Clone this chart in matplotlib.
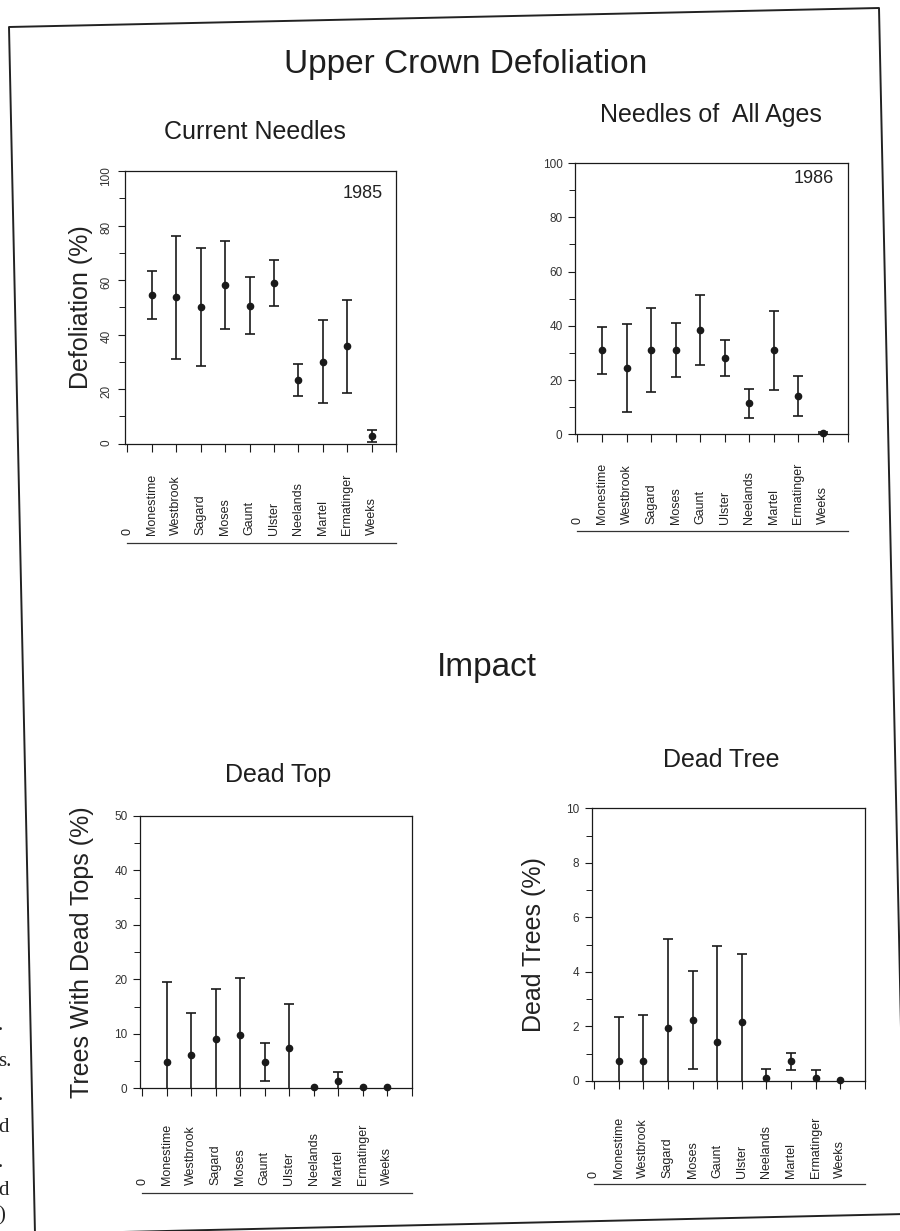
import numpy as np
import matplotlib
matplotlib.use("Agg")
import matplotlib.pyplot as plt
from matplotlib.lines import Line2D
from matplotlib.ticker import MultipleLocator
import matplotlib.transforms as mtransforms

plt.rcParams['font.family'] = ['Liberation Sans', 'DejaVu Sans']

# --- site data (mean and standard deviation per stand) ---
sites = ["Monestime", "Westbrook", "Sagard", "Moses", "Gaunt",
         "Ulster", "Neelands", "Martel", "Ermatinger", "Weeks"]

defol_1985_mean = [54.5, 53.6, 50.1, 58.2, 50.6, 58.9, 23.2, 30.0, 35.6, 2.7]
defol_1985_sd = [8.8, 22.5, 21.8, 16.0, 10.5, 8.6, 5.8, 15.3, 17.2, 2.2]

defol_1986_mean = [30.9, 24.3, 31.1, 31.2, 38.5, 28.0, 11.4, 31.0, 14.1, 0.6]
defol_1986_sd = [8.8, 16.2, 15.4, 10.0, 13.0, 6.6, 5.3, 14.5, 7.5, 0.4]

dead_top_mean = [4.9, 6.1, 9.1, 9.8, 4.9, 7.4, 0.2, 1.25, 0.2, 0.3]
dead_top_sd = [14.6, 7.7, 9.1, 10.5, 3.5, 8.1, 0.0, 1.75, 0.0, 0.0]

dead_tree_mean = [0.72, 0.72, 1.92, 2.24, 1.43, 2.16, 0.12, 0.71, 0.10, 0.03]
dead_tree_sd = [1.61, 1.71, 3.3, 1.8, 3.5, 2.48, 0.31, 0.3, 0.31, 0.0]

W, H = 900, 1231
INK = '#1a1a1a'


def px_box(left, top, right, bottom):
    return [left / W, 1 - bottom / H, (right - left) / W, (bottom - top) / H]


def site_panel(box, means, sds, ymax, major, minor, ylabel, ylabel_xy,
               rotate_ticks=False, year=None, year_xy=None,
               label_y=-0.33, line_y=-0.36):
    ax = fig.add_axes(px_box(*box))
    x = np.arange(1, len(sites) + 1)
    m = np.array(means)
    s = np.array(sds)
    lo = np.clip(m - s, 0, None)
    hi = m + s

    # error bars, caps only where the bar does not run into the axis
    has_bar = s > 0
    ax.vlines(x[has_bar], lo[has_bar], hi[has_bar], color=INK, lw=1.2, zorder=3)
    ax.plot(x[has_bar], hi[has_bar], '_', color=INK, ms=7, mew=1.2, zorder=3)
    low_cap = has_bar & (m - s > 0)
    ax.plot(x[low_cap], lo[low_cap], '_', color=INK, ms=7, mew=1.2, zorder=3)
    ax.plot(x, m, 'o', color=INK, ms=4.5, zorder=4, clip_on=False)

    ax.set_xlim(-0.1, 11.0)
    ax.set_ylim(0, ymax)
    ax.set_xticks(np.arange(0, 12))
    ax.yaxis.set_major_locator(MultipleLocator(major))
    ax.yaxis.set_minor_locator(MultipleLocator(minor))
    ax.tick_params(axis='x', direction='out', length=6, width=0.8,
                   labelbottom=False, color=INK)
    ax.tick_params(axis='y', which='major', direction='out', length=5,
                   width=0.8, labelsize=8.5, labelcolor='#333333', color=INK,
                   pad=4)
    ax.tick_params(axis='y', which='minor', direction='out', length=4,
                   width=0.7, color=INK)
    if rotate_ticks:
        ax.tick_params(axis='y', labelrotation=90)
    for sp in ax.spines.values():
        sp.set_linewidth(0.9)
        sp.set_color(INK)

    ax.set_ylabel(ylabel, fontsize=18, color='#222222')
    ax.yaxis.set_label_coords(*ylabel_xy)

    # stand names written upward below the axis, then an underline
    trans = mtransforms.blended_transform_factory(ax.transData, ax.transAxes)
    names = ["0"] + sites
    for i, name in enumerate(names):
        ax.text(i, label_y, name, transform=trans, rotation=90,
                ha='center', va='bottom', fontsize=9, color='#222222')
    ax.plot([0, 11], [line_y, line_y], transform=trans, color='#333333',
            lw=0.9, clip_on=False)

    if year:
        ax.text(*year_xy, year, transform=ax.transAxes, ha='right',
                va='baseline', fontsize=13, color='#222222')
    return ax


fig = plt.figure(figsize=(W / 100, H / 100), dpi=100)

fig.text(466 / W, 1 - 73.5 / H, "Upper Crown Defoliation", ha='center',
         va='baseline', fontsize=24, color='#1e1e1e')
fig.text(255 / W, 1 - 139 / H, "Current Needles", ha='center',
         va='baseline', fontsize=18, color='#1e1e1e')
fig.text(711 / W, 1 - 122 / H, "Needles of  All Ages", ha='center',
         va='baseline', fontsize=18, color='#1e1e1e')
fig.text(487 / W, 1 - 676 / H, "Impact", ha='center',
         va='baseline', fontsize=24, color='#1e1e1e')
fig.text(278 / W, 1 - 782 / H, "Dead Top", ha='center',
         va='baseline', fontsize=18, color='#1e1e1e')
fig.text(721 / W, 1 - 767 / H, "Dead Tree", ha='center',
         va='baseline', fontsize=18, color='#1e1e1e')

site_panel((125, 171, 396, 443.5), defol_1985_mean, defol_1985_sd, 100, 20, 10,
           "Defoliation (%)", (-0.118, 0.5), rotate_ticks=True,
           year="1985", year_xy=(0.95, 0.9), label_y=-0.335, line_y=-0.366)
site_panel((575, 163, 847.5, 434.3), defol_1986_mean, defol_1986_sd, 100, 20, 10,
           "", (-0.15, 0.5), year="1986", year_xy=(0.95, 0.925),
           label_y=-0.33, line_y=-0.356)
site_panel((140, 816, 411.5, 1088.3), dead_top_mean, dead_top_sd, 50, 10, 5,
           "Trees With Dead Tops (%)", (-0.17, 0.5),
           label_y=-0.356, line_y=-0.385)
site_panel((591.5, 808.3, 865, 1080.8), dead_tree_mean, dead_tree_sd, 10, 2, 1,
           "Dead Trees (%)", (-0.165, 0.5),
           label_y=-0.356, line_y=-0.377)

# page frame of the scanned sheet
frame_px = [(35, 1234), (9, 27), (879, 8), (905, 1214), (35, 1234)]
fx = [p[0] / W for p in frame_px]
fy = [1 - p[1] / H for p in frame_px]
fig.add_artist(Line2D(fx, fy, transform=fig.transFigure, color='#222222', lw=1.4))

# cut-off line endings of the neighbouring caption
for ch, yy in [(".", 1030), ("s.", 1066), (".", 1100), ("d", 1132),
               (".", 1167), ("d", 1195), (")", 1220)]:
    fig.text(-2 / W, 1 - yy / H, ch, ha='left', va='baseline', fontsize=15,
             family='Liberation Serif', color='#222222')

fig.savefig("out.png", dpi=100)
